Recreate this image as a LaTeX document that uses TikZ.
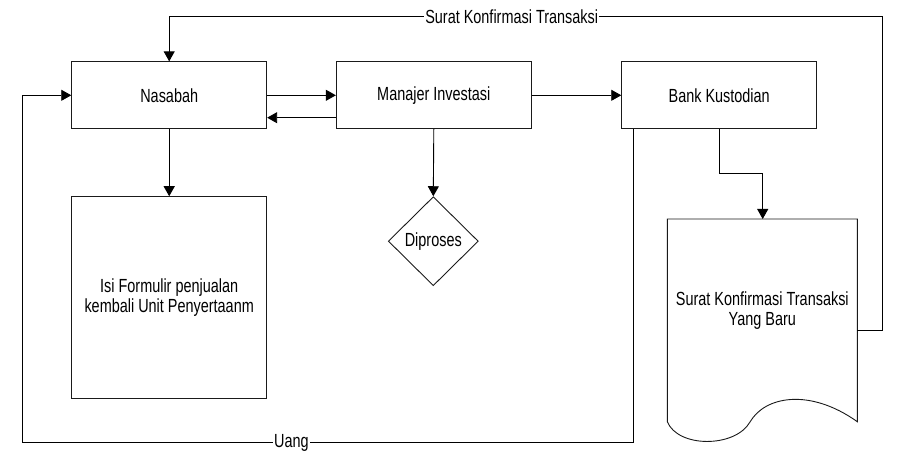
\documentclass[tikz,border=0pt]{standalone}
\usepackage{fontspec}
\setmainfont{Liberation Sans}[FakeStretch=0.76]
\usetikzlibrary{arrows.meta,shapes.geometric}
\definecolor{alurhitam}{HTML}{1A1A1A}
\tikzset{
  kotak/.style={draw=alurhitam,line width=0.9pt,minimum width=195pt,minimum height=67pt,inner sep=0pt,align=center},
  keputusan/.style={draw=alurhitam,line width=0.9pt,diamond,minimum width=90pt,minimum height=89pt,inner sep=0pt},
  garisdok/.style={draw=alurhitam,line width=0.9pt},
  panah/.style={draw=black,line width=0.9pt,-{Triangle[length=10pt,width=11pt]}},
  ket/.style={fill=white,inner sep=1pt}
}

\begin{document}
\begin{tikzpicture}[x=1pt,y=-1pt,font=\fontsize{19}{20}\selectfont]
    \useasboundingbox (0,0) rectangle (897,473);
    \node[kotak] (nasabah) at (169.2,95.3) {Nasabah};
    \node[kotak] (manajer) at (433.8,95.3) {Manajer Investasi};
    \node[kotak] (bank) at (719.2,95.3) {Bank Kustodian};
    \node[kotak,minimum height=201.6pt] (formulir) at (169.2,297.5) {Isi Formulir penjualan\\kembali Unit Penyertaanm};
    \node[keputusan] (diproses) at (433.3,241.2) {Diproses};
    \draw[garisdok] (667.3,219) -- (857.3,219) -- (857.3,421.7) .. controls (810,388) and (765,396) .. (750,422) .. controls (735,448) and (678,448) .. (667.3,421.7) -- cycle;
    \node[align=center] (dokumen) at (762.3,311) {Surat Konfirmasi Transaksi\\Yang Baru};
    \coordinate (dokAtas) at (762.7,219);
    \coordinate (dokKanan) at (857.3,330);
    \coordinate (kananAtas) at (882.7,16.7);
    \coordinate (kiriBawah) at (22.3,442.7);
    \coordinate (belok) at (762.7,173.3);
    \draw[panah] (nasabah.east) -- (manajer.west);
    \draw[panah] ([yshift=-22.4pt]manajer.west) -- ([yshift=-22.4pt]nasabah.east);
    \draw[panah] (manajer.east) -- (bank.west);
    \draw[panah] (nasabah.south) -- (formulir.north);
    \draw[panah] (manajer.south) -- (diproses.north);
    \draw[panah] (bank.south) |- (belok) -- (dokAtas);
    \draw[panah] (dokKanan) -| (kananAtas) -| node[pos=0.26,ket] {Surat Konfirmasi Transaksi} (nasabah.north);
    \draw[panah] ([xshift=12.6pt]bank.south west) |- node[pos=0.78,ket] {Uang} (kiriBawah) |- (nasabah.west);
\end{tikzpicture}
\end{document}
